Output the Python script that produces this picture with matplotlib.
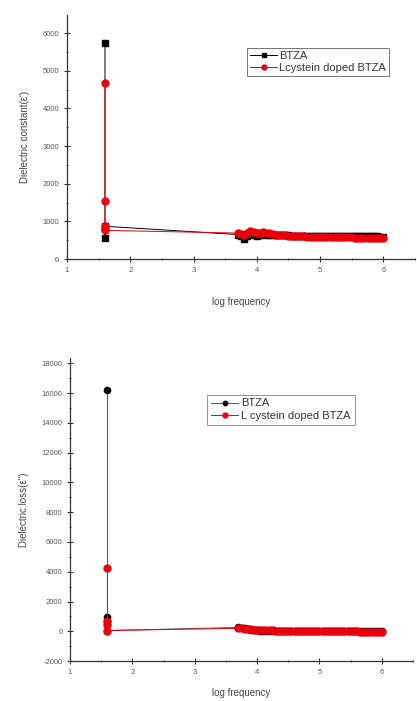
import matplotlib
matplotlib.use("Agg")
import matplotlib.pyplot as plt
from matplotlib.ticker import MultipleLocator

plt.rcParams['font.family'] = ['Liberation Sans', 'DejaVu Sans']
plt.rcParams['axes.unicode_minus'] = False

# ---------------- data ----------------
head_logf = 1.6
tail_logf = [3.70, 3.75, 3.80, 3.85, 3.90, 3.95, 4.00, 4.05, 4.10, 4.15, 4.20, 4.25,
             4.30, 4.35, 4.40, 4.45, 4.50, 4.55, 4.60, 4.65, 4.70, 4.75, 4.80, 4.85,
             4.90, 4.95, 5.00, 5.05, 5.10, 5.15, 5.20, 5.25, 5.30, 5.35, 5.40, 5.45,
             5.50, 5.55, 5.60, 5.65, 5.70, 5.75, 5.80, 5.85, 5.90, 5.95, 6.00]

# Dielectric constant
btza_eps_head = [5750, 555, 870]
btza_eps_tail = [650, 600, 545, 620, 690, 640, 600, 640, 660, 650, 640, 640,
                 635, 630, 630, 628, 625, 624, 622, 620, 620, 618, 617, 616,
                 615, 614, 613, 612, 611, 610, 610, 609, 608, 607, 606, 606,
                 605, 604, 603, 602, 602, 601, 600, 600, 599, 598, 597]
lcys_eps_head = [4670, 1530, 870, 800, 760]
lcys_eps_tail = [690, 660, 640, 700, 750, 730, 700, 690, 720, 700, 680, 660,
                 650, 640, 632, 625, 620, 615, 610, 606, 602, 599, 596, 593,
                 590, 588, 586, 584, 582, 580, 578, 577, 576, 575, 574, 573,
                 572, 571, 570, 569, 568, 567, 566, 565, 564, 563, 562]

# Dielectric loss
btza_loss_head = [16200, 950, 700, 50]
btza_loss_tail = [260, 230, 190, 150, 110, 80, 60, 50, 45, 40, 36, 33,
                  30, 28, 26, 24, 22, 20, 19, 18, 17, 16, 15, 14,
                  13, 12, 11, 10, 9, 8, 8, 7, 7, 6, 6, 5,
                  5, 4, 4, 3, 3, 2, 2, 1, 1, 0, 0]
lcys_loss_head = [4250, 700, 400, 50]
lcys_loss_tail = [200, 190, 170, 150, 130, 115, 100, 90, 80, 72, 65, 58,
                  52, 46, 41, 36, 32, 28, 24, 21, 18, 15, 12, 10,
                  8, 6, 4, 2, 0, -2, -4, -6, -8, -9, -10, -11,
                  -12, -13, -14, -15, -16, -17, -18, -19, -20, -21, -22]

legend_top = ['BTZA', 'Lcystein doped BTZA']
legend_bot = ['BTZA', 'L cystein doped BTZA']

BLACK = '#000000'
RED = '#e8000b'

fig = plt.figure(figsize=(4.17, 7.01), dpi=100)


def style_axes(ax, xlim, ylim, ymajor, yminor):
    ax.set_xlim(*xlim)
    ax.set_ylim(*ylim)
    for s in ('top', 'right'):
        ax.spines[s].set_visible(False)
    for s in ('left', 'bottom'):
        ax.spines[s].set_linewidth(0.9)
        ax.spines[s].set_color('#333333')
    ax.xaxis.set_major_locator(MultipleLocator(1))
    ax.xaxis.set_minor_locator(MultipleLocator(0.5))
    ax.yaxis.set_major_locator(MultipleLocator(ymajor))
    ax.yaxis.set_minor_locator(MultipleLocator(yminor))
    ax.tick_params(which='major', direction='inout', length=4, width=0.8,
                   labelsize=5.5, colors='#333333', labelcolor='#555555')
    ax.tick_params(which='minor', direction='inout', length=2, width=0.6,
                   colors='#333333')


# ---------------- top: dielectric constant ----------------
ax1 = fig.add_axes([0.1607, 0.6305, 0.8345, 0.348])
x_b = [head_logf] * len(btza_eps_head) + tail_logf
y_b = btza_eps_head + btza_eps_tail
x_r = [head_logf] * len(lcys_eps_head) + tail_logf
y_r = lcys_eps_head + lcys_eps_tail
ax1.plot(x_b, y_b, color=BLACK, lw=0.7, marker='s', ms=4.2, mec=BLACK, mfc=BLACK,
         label=legend_top[0])
ax1.plot(x_r, y_r, color=RED, lw=0.7, marker='o', ms=5.0, mec=RED, mfc=RED,
         label=legend_top[1])
style_axes(ax1, (1, 6.5), (0, 6480), 1000, 500)
ax1.set_xlabel('log frequency', fontsize=7, color='#444444', labelpad=17)
ax1.set_ylabel("Dielectric constant(\u03b5')", fontsize=7, color='#444444', labelpad=9)
leg1 = ax1.legend(loc='upper left', bbox_to_anchor=(0.580, 0.939),
                  bbox_transform=fig.transFigure, fontsize=8, frameon=True,
                  fancybox=False, edgecolor='#555555', handlelength=2.4,
                  handletextpad=0.2, borderpad=0.25, labelspacing=0.15,
                  markerscale=0.7)
leg1.get_frame().set_linewidth(0.7)
for t in leg1.get_texts():
    t.set_color('#333333')

# ---------------- bottom: dielectric loss ----------------
ax2 = fig.add_axes([0.168, 0.057, 0.8225, 0.432])
x_b2 = [head_logf] * len(btza_loss_head) + tail_logf
y_b2 = btza_loss_head + btza_loss_tail
x_r2 = [head_logf] * len(lcys_loss_head) + tail_logf
y_r2 = lcys_loss_head + lcys_loss_tail
ax2.plot(x_b2, y_b2, color='#555555', lw=0.7, marker='o', ms=4.5, mec=BLACK,
         mfc=BLACK, label=legend_bot[0])
ax2.plot(x_r2, y_r2, color=RED, lw=0.7, marker='o', ms=5.0, mec=RED, mfc=RED,
         label=legend_bot[1])
style_axes(ax2, (1, 6.5), (-2000, 18350), 2000, 1000)
ax2.set_xlabel('log frequency', fontsize=7, color='#444444', labelpad=9)
ax2.set_ylabel("Dielectric loss(\u03b5'')", fontsize=7, color='#444444', labelpad=9)
leg2 = ax2.legend(loc='upper left', bbox_to_anchor=(0.484, 0.445),
                  bbox_transform=fig.transFigure, fontsize=8, frameon=True,
                  fancybox=False, edgecolor='#777777', handlelength=2.4,
                  handletextpad=0.3, borderpad=0.35, labelspacing=0.25,
                  markerscale=0.7)
leg2.get_frame().set_linewidth(0.7)
for t in leg2.get_texts():
    t.set_color('#333333')

fig.savefig('out.png', dpi=100)
